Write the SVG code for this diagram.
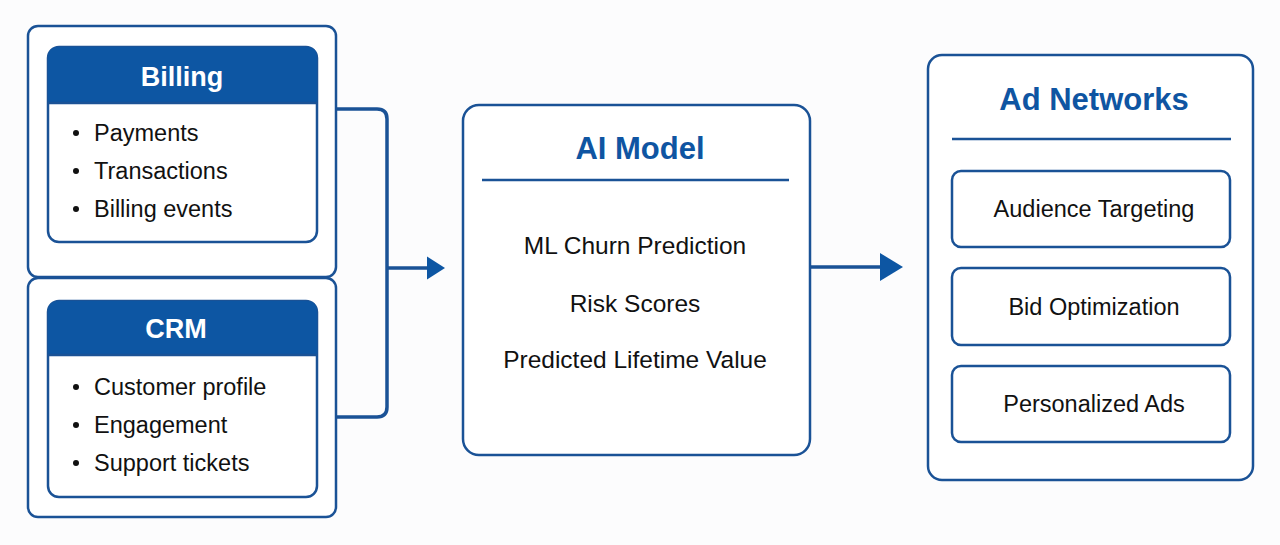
<svg xmlns="http://www.w3.org/2000/svg" width="1280" height="545" viewBox="0 0 1280 545">
<style>
.frame{fill:#ffffff;stroke:#1a5296;stroke-width:2.5}
.card{fill:#ffffff;stroke:#1a5296;stroke-width:2.5}
.hdr{fill:#0d56a3}
.htxt{font-family:"Liberation Sans",Arial,sans-serif;font-weight:bold;font-size:27px;fill:#ffffff;text-anchor:middle}
.ttl{font-family:"Liberation Sans",Arial,sans-serif;font-weight:bold;font-size:31px;fill:#0f55a2;text-anchor:middle}
.bul{font-family:"Liberation Sans",Arial,sans-serif;font-size:23.5px;fill:#111111}
.body{font-family:"Liberation Sans",Arial,sans-serif;font-size:24.5px;fill:#111111;text-anchor:middle}
.item{font-family:"Liberation Sans",Arial,sans-serif;font-size:23.5px;fill:#111111;text-anchor:middle}
.div{stroke:#1a5296;stroke-width:2.5}
.conn{fill:none;stroke:#1a5296;stroke-width:3.5}
.dot{fill:#111111}
</style>
<rect x="0" y="0" width="1280" height="545" fill="#fcfcfd"/>

<g id="connectors">
<path class="conn" d="M336,109 H377 Q387,109 387,119 V407 Q387,417 377,417 H336"/>
<line class="conn" x1="387" y1="268" x2="430" y2="268"/>
<path d="M427,256.5 L445,268 L427,279.5 Z" fill="#0d56a3"/>
<line class="conn" x1="810" y1="267" x2="883" y2="267"/>
<path d="M880,253 L903,267 L880,281 Z" fill="#0d56a3"/>
</g>

<g id="sources-frame">
<rect class="frame" x="28" y="26" width="308" height="251" rx="10"/>
<rect class="frame" x="28" y="278" width="308" height="239" rx="10"/>
</g>

<g id="billing">
<rect class="card" x="48" y="47" width="269" height="195" rx="11"/>
<path class="hdr" d="M48,58 Q48,47 59,47 H306 Q317,47 317,58 V103 H48 Z"/>
<line class="div" x1="48" y1="103" x2="317" y2="103"/>
<text class="htxt" x="182" y="86">Billing</text>
<circle class="dot" cx="76" cy="133" r="3"/>
<text class="bul" x="94" y="141">Payments</text>
<circle class="dot" cx="76" cy="171" r="3"/>
<text class="bul" x="94" y="179">Transactions</text>
<circle class="dot" cx="76" cy="209" r="3"/>
<text class="bul" x="94" y="217">Billing events</text>
</g>

<g id="crm">
<rect class="card" x="48" y="301" width="269" height="196" rx="11"/>
<path class="hdr" d="M48,312 Q48,301 59,301 H306 Q317,301 317,312 V355 H48 Z"/>
<line class="div" x1="48" y1="355" x2="317" y2="355"/>
<text class="htxt" x="176" y="338">CRM</text>
<circle class="dot" cx="76" cy="387" r="3"/>
<text class="bul" x="94" y="395">Customer profile</text>
<circle class="dot" cx="76" cy="425" r="3"/>
<text class="bul" x="94" y="433">Engagement</text>
<circle class="dot" cx="76" cy="463" r="3"/>
<text class="bul" x="94" y="471">Support tickets</text>
</g>

<g id="ai-model">
<rect class="card" x="463" y="105" width="347" height="350" rx="16"/>
<text class="ttl" x="640" y="159">AI Model</text>
<line class="div" x1="482" y1="180" x2="789" y2="180"/>
<text class="body" x="635" y="254">ML Churn Prediction</text>
<text class="body" x="635" y="312">Risk Scores</text>
<text class="body" x="635" y="368">Predicted Lifetime Value</text>
</g>

<g id="ad-networks">
<rect class="card" x="928" y="55" width="325" height="425" rx="14"/>
<text class="ttl" x="1094" y="110">Ad Networks</text>
<line class="div" x1="952" y1="139" x2="1231" y2="139"/>
<rect class="card" x="952" y="171" width="278" height="76" rx="9"/>
<text class="item" x="1094" y="217">Audience Targeting</text>
<rect class="card" x="952" y="268" width="278" height="77" rx="9"/>
<text class="item" x="1094" y="315">Bid Optimization</text>
<rect class="card" x="952" y="366" width="278" height="76" rx="9"/>
<text class="item" x="1094" y="412">Personalized Ads</text>
</g>
</svg>
